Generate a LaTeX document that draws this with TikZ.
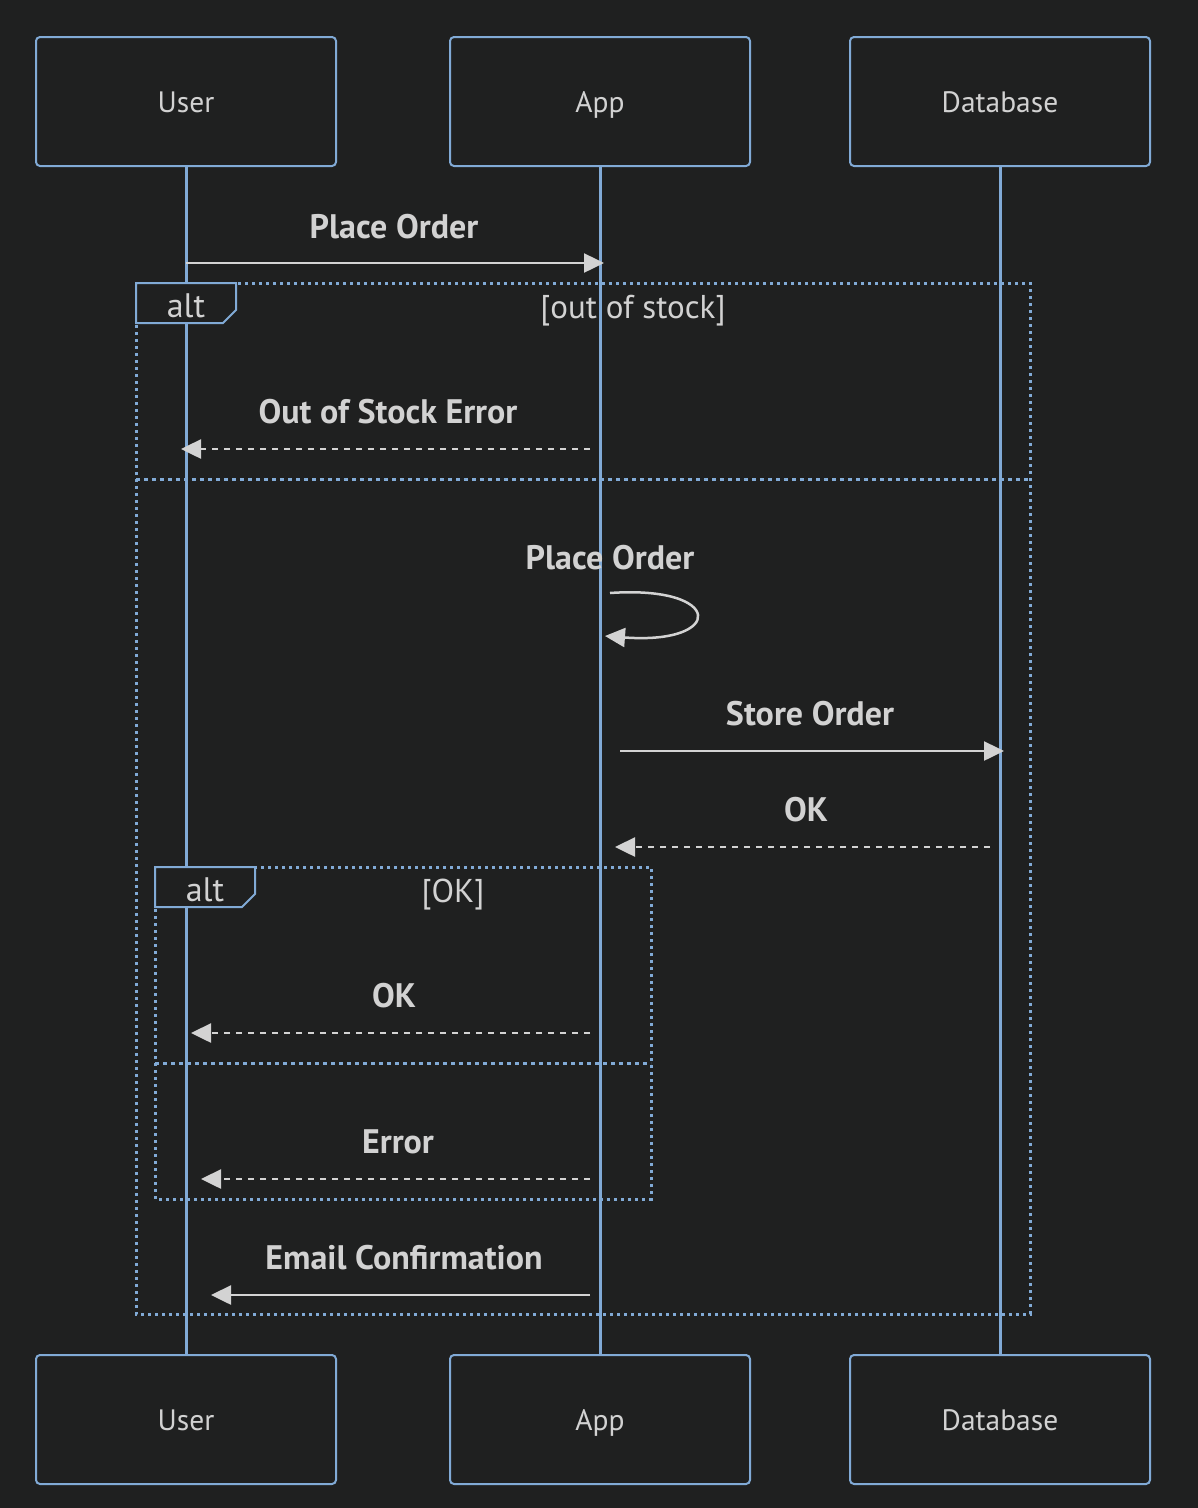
\documentclass[tikz,border=0pt]{standalone}
\usepackage{fontspec}
\setmainfont{PT Sans}
\usetikzlibrary{arrows.meta}
\definecolor{bg}{RGB}{31,32,32}
\definecolor{lblue}{RGB}{129,170,214}
\definecolor{txt}{RGB}{210,210,210}
\definecolor{arr}{RGB}{211,211,211}
\tikzset{
  actorbox/.style={draw=lblue, line width=2pt, fill=bg, rounded corners=4pt, minimum width=300pt, minimum height=129pt, inner sep=0pt},
  actortext/.style={text=txt, font=\fontsize{29.5}{32}\selectfont, inner sep=0pt, anchor=base},
  lifeline/.style={draw=lblue, line width=3pt},
  msgtext/.style={text=txt, font=\bfseries\fontsize{34}{36}\selectfont, inner sep=0pt},
  msg/.style={draw=arr, line width=2.5pt, -{Triangle[length=20pt,width=19pt]}},
  reply/.style={msg, dash pattern=on 6pt off 6pt},
  frame/.style={draw=lblue, line width=3pt, dash pattern=on 3pt off 4pt},
  sep/.style={draw=lblue, line width=3pt, dash pattern=on 4pt off 4pt},
  labbox/.style={draw=lblue, line width=2pt, fill=bg},
  condtext/.style={text=txt, font=\fontsize{33}{35}\selectfont, inner sep=0pt},
  alttext/.style={text=txt, font=\fontsize{34}{36}\selectfont, inner sep=0pt}
}
\begin{document}
\begin{tikzpicture}[x=1pt,y=-1pt]
\fill[bg] (0,0) rectangle (1198,1508);
\useasboundingbox (0,0) rectangle (1198,1508);
% actors
\node[actorbox] (ut) at (186,101.5) {};
\node[actorbox] (at) at (600,101.5) {};
\node[actorbox] (dt) at (1000,101.5) {};
\node[actorbox] (ub) at (186,1419.5) {};
\node[actorbox] (ab) at (600,1419.5) {};
\node[actorbox] (db) at (1000,1419.5) {};
\node[actortext] (utl) at ([yshift=-10.5pt]ut.center) {User};
\node[actortext] (atl) at ([yshift=-10.5pt]at.center) {App};
\node[actortext] (dtl) at ([yshift=-10.5pt]dt.center) {Database};
\node[actortext] (ubl) at ([yshift=-10.5pt]ub.center) {User};
\node[actortext] (abl) at ([yshift=-10.5pt]ab.center) {App};
\node[actortext] (dbl) at ([yshift=-10.5pt]db.center) {Database};
% lifelines
\draw[lifeline] (ut.south) -- (ub.north);
\draw[lifeline] (at.south) -- (ab.north);
\draw[lifeline] (dt.south) -- (db.north);
% message 1
\coordinate (m1s) at (186,263);
\coordinate (m1e) at (604,263);
\node[msgtext] (m1t) at (394,227) {Place Order};
\draw[msg] (m1s) -- (m1e);
% outer alt frame
\draw[frame] (136,283) rectangle (1030,1314);
\draw[labbox] (136,283) -- (236,283) -- (236,310) -- (223,323) -- (136,323) -- cycle;
\node[alttext] (alt1) at (186,306) {alt};
\node[condtext] (c1) at (633,311) {[out of stock]};
\draw[sep] (136,479) -- (1030,479);
% out of stock error
\coordinate (m2s) at (590,449);
\coordinate (m2e) at (181,449);
\node[msgtext] (m2t) at (388,412) {Out of Stock Error};
\draw[reply] (m2s) -- (m2e);
% self loop
\coordinate (m3s) at (610,593);
\coordinate (m3e) at (605,636);
\node[msgtext] (m3t) at (610,558) {Place Order};
\draw[msg] (m3s) .. controls (725,585) and (725,645) .. (m3e);
% store order
\coordinate (m4s) at (620,751);
\coordinate (m4e) at (1004,751);
\node[msgtext] (m4t) at (810,714) {Store Order};
\draw[msg] (m4s) -- (m4e);
% OK reply
\coordinate (m5s) at (990,847);
\coordinate (m5e) at (615,847);
\node[msgtext] (m5t) at (806,810) {OK};
\draw[reply] (m5s) -- (m5e);
% inner alt
\draw[frame] (155,867) rectangle (651,1199);
\draw[labbox] (155,867) -- (255,867) -- (255,894) -- (242,907) -- (155,907) -- cycle;
\node[alttext] (alt2) at (205,890) {alt};
\node[condtext] (c2) at (453,895) {[OK]};
\draw[sep] (155,1063) -- (651,1063);
% OK to user
\coordinate (m6s) at (590,1033);
\coordinate (m6e) at (191,1033);
\node[msgtext] (m6t) at (394,996) {OK};
\draw[reply] (m6s) -- (m6e);
% Error
\coordinate (m7s) at (590,1179);
\coordinate (m7e) at (201,1179);
\node[msgtext] (m7t) at (398,1142) {Error};
\draw[reply] (m7s) -- (m7e);
% Email confirmation
\coordinate (m8s) at (590,1295);
\coordinate (m8e) at (211,1295);
\node[msgtext] (m8t) at (404,1258) {Email Confirmation};
\draw[msg] (m8s) -- (m8e);
\end{tikzpicture}
\end{document}
